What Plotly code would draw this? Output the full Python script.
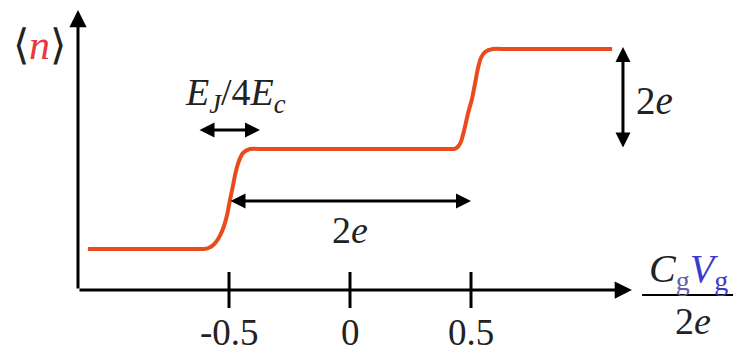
import plotly.graph_objects as go

# Average charge <n> versus reduced gate charge CgVg/2e (Coulomb staircase)
gate_charge = [-1.083, -0.80, -0.65, -0.605, -0.585, -0.565, -0.545, -0.525, -0.508, -0.496,
               -0.483, -0.475, -0.459, -0.442, -0.413, -0.36, -0.20, 0.0, 0.20, 0.36, 0.405,
               0.430, 0.445, 0.458, 0.470, 0.488, 0.504, 0.517, 0.528, 0.541, 0.558, 0.591,
               0.64, 0.80, 1.083]
mean_n = [0.0, 0.0, 0.0, 0.0, 0.01, 0.04, 0.10, 0.20, 0.34, 0.49,
          0.64, 0.74, 0.88, 0.96, 1.0, 1.0, 1.0, 1.0, 1.0, 1.0, 1.0,
          1.0, 1.02, 1.07, 1.17, 1.36, 1.50, 1.66, 1.80, 1.91, 1.97, 2.0,
          2.0, 2.0, 2.0]

tick_vals = [-0.5, 0.0, 0.5]
tick_text = ["-0.5", "0", "0.5"]

step_centers = [-0.5, 0.5]
plateaus = [0.0, 1.0, 2.0]

# Axis geometry (data units)
x_origin, y_origin = -1.124, -0.41
x_tip, y_tip = 1.165, 2.39

SERIF = "Liberation Serif"
CURVE = "#ea4a1c"
BLUE = "#3a3ad0"

fig = go.Figure()
fig.add_trace(go.Scatter(
    x=gate_charge, y=mean_n, mode="lines",
    line=dict(color=CURVE, width=4, shape="spline", smoothing=0.6),
    hoverinfo="skip", showlegend=False,
))

annotations = []


def arrow(x0, y0, x1, y1, both=False, width=3, size=1.0):
    a = dict(x=x1, y=y1, ax=x0, ay=y0, xref="x", yref="y", axref="x", ayref="y",
             text="", showarrow=True, arrowhead=2, arrowsize=size,
             arrowwidth=width, arrowcolor="black")
    if both:
        a.update(arrowside="end+start", startarrowhead=2, startarrowsize=size)
    annotations.append(a)


# axes with arrowheads
arrow(x_origin, y_origin, x_origin, y_tip, width=3, size=1.15)
arrow(x_origin, y_origin, x_tip, y_origin, width=3, size=1.15)

# Josephson smearing width
arrow(-0.628, 1.19, -0.372, 1.19, both=True, width=3, size=1.0)
# period along the gate axis
arrow(step_centers[0], 0.48, step_centers[1], 0.48, both=True, width=3, size=1.0)
# step height
arrow(1.128, plateaus[1], 1.128, plateaus[2] + 0.02, both=True, width=3, size=1.0)

shapes = []
for tv in tick_vals:
    shapes.append(dict(type="line", xref="x", yref="y", x0=tv, x1=tv,
                       y0=y_origin + 0.18, y1=y_origin - 0.18,
                       line=dict(color="black", width=3)))
# fraction bar of the x-axis label
shapes.append(dict(type="line", xref="x", yref="y", x0=1.207, x1=1.583,
                   y0=-0.46, y1=-0.46, line=dict(color="black", width=2)))


def label(x, y, text, size=36, **kw):
    annotations.append(dict(x=x, y=y, xref="x", yref="y", text=text, showarrow=False,
                            font=dict(family=SERIF, size=size, color="#222"),
                            xanchor="center", yanchor="middle", **kw))


for tv, tt in zip(tick_vals, tick_text):
    label(tv, -0.83, tt, size=37)

label(-1.285, 2.04, "⟨<i><span style='color:#e8393f'>n</span></i>⟩", size=42)
label(-0.475, 1.54, "<i>E</i><sub><i>J</i></sub>/4<i>E</i><sub><i>c</i></sub>", size=38)
label(0.0, 0.19, "2<i>e</i>", size=38)
label(1.26, 1.49, "2<i>e</i>", size=39)
label(1.397, -0.22,
      "<i>C</i><sub><span style='color:#6060b0'>g</span></sub>"
      f"<i><span style='color:{BLUE}'>V</span></i><sub><span style='color:{BLUE}'>g</span></sub>",
      size=40)
label(1.417, -0.72, "2<i>e</i>", size=38)

fig.update_layout(
    width=738, height=352,
    margin=dict(l=0, r=0, t=0, b=0),
    paper_bgcolor="white", plot_bgcolor="white",
    font=dict(family=SERIF),
    xaxis=dict(range=[-1.4463, 1.6033], visible=False, fixedrange=True),
    yaxis=dict(range=[-1.03, 2.49], visible=False, fixedrange=True),
    shapes=shapes, annotations=annotations,
    showlegend=False,
)

fig.write_html("out.html", config={"displayModeBar": False})
